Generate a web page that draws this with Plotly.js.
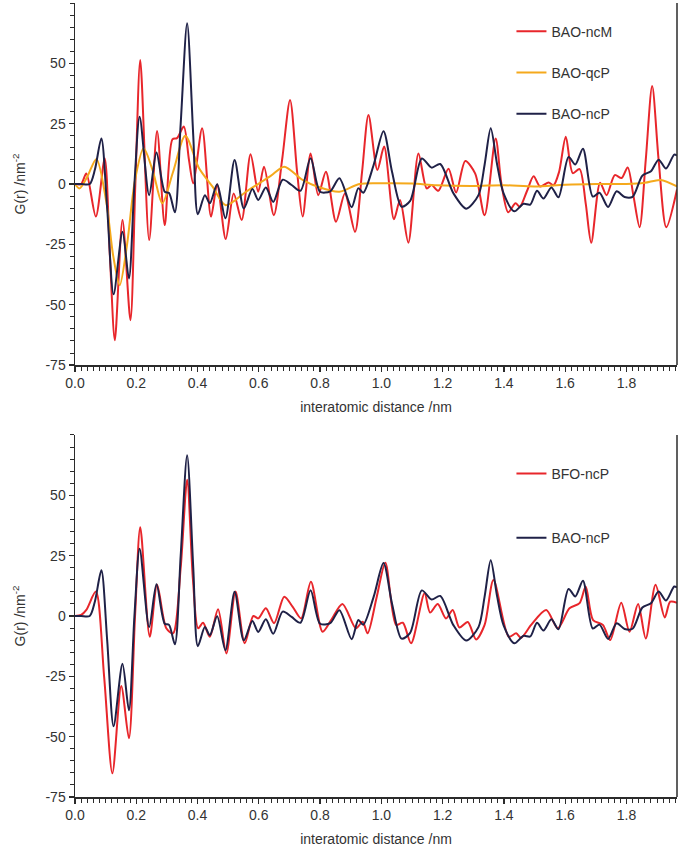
<!DOCTYPE html>
<html>
<head>
<meta charset="utf-8">
<script src="https://cdn.plot.ly/plotly-3.0.1.min.js"></script>
<style>html,body{margin:0;padding:0;background:#fff;}#chart{width:685px;height:852px;}</style>
</head>
<body>
<div id="chart"></div>
<script>
// ---- Data ----
// BAO-ncP (navy) - same curve in both panels
const ncP_BAO_r = [0,0.02,0.048,0.065,0.086,0.105,0.126,0.155,0.176,0.194,0.211,0.242,0.266,0.293,0.307,0.326,0.345,0.366,0.386,0.401,0.424,0.440,0.464,0.491,0.521,0.551,0.579,0.598,0.623,0.647,0.678,0.707,0.736,0.769,0.800,0.833,0.863,0.903,0.925,0.941,0.975,1.007,1.035,1.066,1.094,1.132,1.164,1.192,1.235,1.277,1.317,1.337,1.357,1.378,1.399,1.434,1.464,1.486,1.508,1.529,1.555,1.578,1.611,1.633,1.658,1.690,1.712,1.740,1.768,1.794,1.820,1.852,1.880,1.905,1.929,1.956,1.965];
const ncP_BAO_G = [0,0,0,6,18.9,-10,-45.7,-19.8,-39.1,0,27.9,-4.6,13.1,-3.2,-3.7,-11.7,25,66.6,20,-12.5,-4.6,-8.0,-0.1,-14.2,10.0,-10.1,-2.1,-6.6,-1.4,-7.4,1.8,-0.4,-2.8,10.7,-3.2,-3.0,2.4,-9.6,-1.7,-3.6,8,21.9,5,-9.4,-7.0,10.6,6.8,8.3,-3.8,-10.2,-4.6,8,23.1,8,-3.9,-11.3,-8.2,-8.5,-2.8,-6.0,-1.4,-5.5,11.2,8.1,14.6,-5.2,-3.6,-9.5,-3.0,-5.4,-5.3,3.5,5.3,10.1,6.4,12.2,11.8];

// BAO-ncM (red, top panel)
const ncM_BAO_r = [0,0.02,0.037,0.068,0.097,0.114,0.130,0.155,0.181,0.197,0.213,0.242,0.268,0.293,0.318,0.333,0.355,0.372,0.386,0.415,0.444,0.464,0.492,0.518,0.544,0.573,0.598,0.617,0.649,0.676,0.702,0.725,0.743,0.769,0.794,0.819,0.852,0.881,0.914,0.937,0.958,0.987,1.009,1.041,1.061,1.088,1.121,1.148,1.164,1.186,1.219,1.244,1.274,1.306,1.337,1.373,1.392,1.414,1.438,1.452,1.475,1.497,1.518,1.546,1.562,1.580,1.602,1.625,1.647,1.667,1.685,1.714,1.735,1.762,1.784,1.804,1.823,1.843,1.863,1.884,1.905,1.930,1.965];
const ncM_BAO_G = [0,0,4.4,-13.5,10.6,-30,-64.7,-14.9,-56.4,0,51.4,-23.2,22.0,-17.0,18.5,19,23.8,10,0.3,23.1,-13.5,-0.2,-22.8,-3.9,-14.9,12.3,-3.2,7.2,-12.9,10,34.8,5,-13.5,12.7,-4.6,5.1,-15.6,-3.9,-19.8,5,28.6,5.8,15.5,-14.6,-6.6,-24.3,12.7,-1.8,-0.4,-2.8,6.3,-3.5,9.5,4.4,-12.9,18.9,0,-11.7,-8.0,-9.4,-3,3.2,-1.0,0.6,-0.5,5,19.6,4.5,6.2,-8,-24.3,0.5,-4.6,3.7,2.5,6.9,-5,-17.9,10,40.6,10,-17.9,-2.3];

// BAO-qcP (orange, top panel)
const qcP_BAO_r = [0,0.015,0.040,0.070,0.102,0.125,0.146,0.170,0.195,0.224,0.255,0.285,0.320,0.360,0.405,0.449,0.492,0.558,0.601,0.640,0.683,0.743,0.792,0.863,0.928,1.0,1.1,1.18,1.3,1.4,1.5,1.6,1.7,1.8,1.86,1.911,1.965];
const qcP_BAO_G = [0,-1.8,3,10.4,-7.3,-30,-41.9,-25,1.0,14.8,5,-8.0,5,20,6.5,-1.1,-8.8,-3.2,0.3,3.5,7.2,1.7,-1.1,-3.2,0,0.3,0.2,-0.5,-0.8,-0.5,-1.0,-0.3,0,0,0.5,1.7,-1.0];

// BFO-ncP (red, bottom panel)
const ncP_BFO_r = [0,0.02,0.037,0.068,0.095,0.122,0.151,0.176,0.196,0.213,0.244,0.268,0.298,0.320,0.345,0.366,0.385,0.402,0.418,0.440,0.467,0.494,0.524,0.554,0.582,0.598,0.623,0.650,0.683,0.710,0.738,0.770,0.808,0.836,0.873,0.917,0.939,0.955,0.985,1.013,1.048,1.070,1.097,1.141,1.159,1.184,1.211,1.233,1.255,1.282,1.309,1.337,1.366,1.416,1.440,1.456,1.489,1.538,1.576,1.614,1.647,1.667,1.691,1.723,1.747,1.783,1.810,1.838,1.863,1.895,1.925,1.943,1.965];
const ncP_BFO_G = [0,0.4,2.5,10.1,-25,-65.2,-29.0,-50.7,0,36.8,-8.6,12.9,-5.1,-7.2,20,56.4,15,-5.1,-2.8,-8.6,2.8,-15.5,10.1,-11.3,0,-1.0,3.2,-3.0,8.0,3.9,-1.0,14.2,-6.5,-1.7,5.0,-5.1,-2.4,-7.2,8,22.1,-3.7,-2.8,-11.3,9.4,1.4,5.0,-1.0,2.5,-4.8,-2.5,-9.7,-3.7,14.9,-8.6,-7.2,-9.0,-3.7,2.5,-5.1,3.2,5.3,12.2,-1.7,-3.7,-10.0,5.5,-6.5,5.0,-9.3,12.9,-0.6,5.9,5.5];

const seriesNames = ['BAO-ncM','BAO-qcP','BAO-ncP','BFO-ncP'];
const xTickVals = [0,0.2,0.4,0.6,0.8,1.0,1.2,1.4,1.6,1.8];
const xTickText = ['0.0','0.2','0.4','0.6','0.8','1.0','1.2','1.4','1.6','1.8'];
const yTickVals = [-75,-50,-25,0,25,50];
const yTickText = ['-75','-50','-25','0','25','50'];

// ---- Styles ----
const RED = '#e8262b', ORANGE = '#f5a91c', NAVY = '#1f2147';
const AX = '#2b2b2b', TXT = '#333333';
const FONT = 'Liberation Sans, Arial, sans-serif';

function line(color){ return {color: color, width: 2, shape: 'spline', smoothing: 0.8}; }

const traces = [
  {x: ncM_BAO_r, y: ncM_BAO_G, name: seriesNames[0], mode: 'lines', line: line(RED), xaxis: 'x', yaxis: 'y', legend: 'legend', legendgroup: 'a'},
  {x: qcP_BAO_r, y: qcP_BAO_G, name: seriesNames[1], mode: 'lines', line: line(ORANGE), xaxis: 'x', yaxis: 'y', legend: 'legend', legendgroup: 'b'},
  {x: ncP_BAO_r, y: ncP_BAO_G, name: seriesNames[2], mode: 'lines', line: line(NAVY), xaxis: 'x', yaxis: 'y', legend: 'legend', legendgroup: 'c'},
  {x: ncP_BFO_r, y: ncP_BFO_G, name: seriesNames[3], mode: 'lines', line: line(RED), xaxis: 'x2', yaxis: 'y2', legend: 'legend2', legendgroup: 'd'},
  {x: ncP_BAO_r, y: ncP_BAO_G, name: seriesNames[2], mode: 'lines', line: line(NAVY), xaxis: 'x2', yaxis: 'y2', legend: 'legend2', legendgroup: 'e'}
];

function xax(anchor){
  return {
    anchor: anchor, domain: [0,1], range: [0, 1.965],
    tickmode: 'array', tickvals: xTickVals, ticktext: xTickText,
    ticks: 'outside', ticklen: 5, tickwidth: 1.2, tickcolor: AX,
    minor: {dtick: 0.02, tick0: 0, ticks: 'outside', ticklen: 4, tickwidth: 1, tickcolor: AX},
    showline: true, linecolor: AX, linewidth: 1.5, showgrid: false, zeroline: false,
    tickfont: {family: FONT, size: 14, color: TXT},
    title: {text: 'interatomic distance /nm', font: {family: FONT, size: 14, color: TXT}, standoff: 12},
    automargin: false
  };
}
function yax(anchor, dom){
  return {
    anchor: anchor, domain: dom, range: [-75, 75],
    tickmode: 'array', tickvals: yTickVals, ticktext: yTickText,
    ticks: 'outside', ticklen: 5, tickwidth: 1.2, tickcolor: AX,
    minor: {dtick: 5, tick0: 0, ticks: 'outside', ticklen: 4, tickwidth: 1, tickcolor: AX},
    showline: true, linecolor: AX, linewidth: 1.5, showgrid: false, zeroline: false,
    tickfont: {family: FONT, size: 14, color: TXT},
    title: {text: 'G(r) /nm<sup>-2</sup>', font: {family: FONT, size: 14, color: TXT}, standoff: 16},
    automargin: false
  };
}

const layout = {
  width: 685, height: 852,
  margin: {l: 75, r: 8, t: 3, b: 55},
  paper_bgcolor: '#ffffff', plot_bgcolor: '#ffffff',
  font: {family: FONT, color: TXT},
  showlegend: true,
  xaxis: xax('y'), yaxis: yax('x', [0.544, 1]),
  xaxis2: xax('y2'), yaxis2: yax('x2', [0, 0.456]),
  legend: {x: 0.725, y: 0.984, xanchor: 'left', yanchor: 'top', traceorder: 'grouped', tracegroupgap: 20,
           bgcolor: 'rgba(0,0,0,0)', borderwidth: 0, font: {family: FONT, size: 14, color: TXT}},
  legend2: {x: 0.725, y: 0.427, xanchor: 'left', yanchor: 'top', traceorder: 'grouped', tracegroupgap: 43,
           bgcolor: 'rgba(0,0,0,0)', borderwidth: 0, font: {family: FONT, size: 14, color: TXT}},
  shapes: [
    {type: 'line', xref: 'x domain', yref: 'y domain', x0: 1, x1: 1, y0: 0, y1: 1, line: {color: AX, width: 1.5}},
    {type: 'line', xref: 'x2 domain', yref: 'y2 domain', x0: 1, x1: 1, y0: 0, y1: 1, line: {color: AX, width: 1.5}}
  ]
};

Plotly.newPlot('chart', traces, layout, {staticPlot: true, displayModeBar: false});
</script>
</body>
</html>
